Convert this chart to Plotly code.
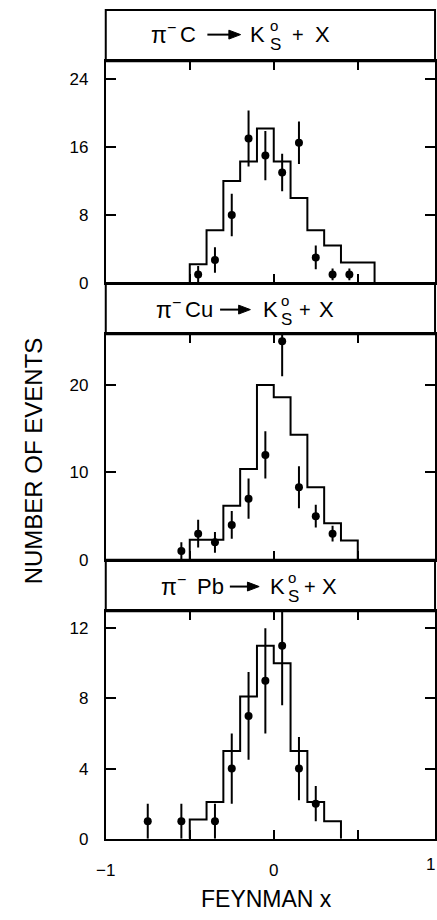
import plotly.graph_objects as go

W, H = 437, 920

# ---------------- data ----------------
C_edges = [-0.5, -0.4, -0.3, -0.2, -0.1, 0.0, 0.1, 0.2, 0.3, 0.4, 0.6]
C_model = [2.2, 6.2, 12.0, 14.3, 18.2, 14.3, 10.0, 6.2, 4.4, 2.4]
C_x = [-0.45, -0.35, -0.25, -0.15, -0.05, 0.05, 0.15, 0.25, 0.35, 0.45]
C_n = [1, 2.7, 8, 17, 15, 13, 16.5, 3, 1, 1]
C_err = [1.0, 1.5, 2.5, 3.3, 2.9, 2.2, 2.5, 1.4, 0.7, 0.7]

Cu_edges = [-0.5, -0.4, -0.3, -0.2, -0.1, 0.0, 0.1, 0.2, 0.3, 0.4, 0.5]
Cu_model = [2.3, 2.3, 6.2, 10.4, 20.0, 18.6, 14.3, 8.3, 4.2, 2.2]
Cu_x = [-0.55, -0.45, -0.35, -0.25, -0.15, -0.05, 0.05, 0.15, 0.25, 0.35]
Cu_n = [1, 3, 2, 4, 7, 12, 25, 8.3, 5, 3]
Cu_err = [1.0, 1.6, 1.2, 1.6, 2.3, 2.7, 4.0, 2.4, 1.3, 0.9]

Pb_edges = [-0.5, -0.4, -0.3, -0.2, -0.1, 0.0, 0.1, 0.2, 0.3, 0.4]
Pb_model = [1.1, 2.1, 5.0, 8.1, 11.0, 10.0, 5.0, 2.1, 1.0]
Pb_x = [-0.75, -0.55, -0.35, -0.25, -0.15, -0.05, 0.05, 0.15, 0.25]
Pb_n = [1, 1, 1, 4, 7, 9, 11, 4, 2]
Pb_err = [1.0, 1.0, 1.0, 2.0, 2.5, 3.0, 3.4, 1.8, 1.0]

targets = ["C", "Cu", "Pb"]
y_ranges = [[0, 26.1], [0, 25.8], [0, 12.96]]
y_ticks = [[0, 8, 16, 24], [0, 10, 20], [0, 4, 8, 12]]
x_major = [-1, 0]
x_major_text = ["−1", "0"]
x_minor = [-0.5, 0.5]
x_range = [-1, 0.96]

# ---------------- layout geometry (pixels) ----------------
FONT = "Liberation Sans, Arial, sans-serif"
LEFT, RIGHT = 98, 435
plot_px = [(62, 286), (338, 566), (618, 848)]   # top, bottom of each plot area
box_px = [(10, 62), (286, 338), (566, 618)]     # title boxes


def px(x):
    return x / W


def py(y):
    return 1 - y / H


fig = go.Figure()
series = [
    (C_edges, C_model, C_x, C_n, C_err),
    (Cu_edges, Cu_model, Cu_x, Cu_n, Cu_err),
    (Pb_edges, Pb_model, Pb_x, Pb_n, Pb_err),
]

for i, (edges, model, xs, ns, errs) in enumerate(series):
    suffix = "" if i == 0 else str(i + 1)
    hx = [edges[0]] + list(edges)
    hy = [0] + list(model) + [0]
    fig.add_trace(go.Scatter(
        x=hx, y=hy, mode="lines", line=dict(color="black", width=2, shape="hv"),
        xaxis="x" + suffix, yaxis="y" + suffix, showlegend=False, hoverinfo="skip"))
    fig.add_trace(go.Scatter(
        x=xs, y=ns, mode="markers",
        marker=dict(color="black", size=8),
        error_y=dict(type="data", array=errs, visible=True, color="black",
                     thickness=2, width=0),
        xaxis="x" + suffix, yaxis="y" + suffix, showlegend=False))

axis_common = dict(showline=True, linecolor="black", linewidth=2, mirror="allticks",
                   ticks="inside", tickcolor="black", tickwidth=2, showgrid=False,
                   zeroline=False)

layout = dict(
    width=W, height=H, margin=dict(l=0, r=0, t=0, b=0),
    paper_bgcolor="white", plot_bgcolor="white",
    font=dict(family=FONT, color="black", size=17),
    showlegend=False,
)
for i in range(3):
    suffix = "" if i == 0 else str(i + 1)
    top, bot = plot_px[i]
    layout["xaxis" + suffix] = dict(
        axis_common, domain=[px(LEFT), px(RIGHT)], range=x_range,
        tickvals=x_major, ticktext=x_major_text, ticklen=9,
        minor=dict(tickvals=x_minor, ticks="inside", ticklen=9,
                   tickcolor="black", tickwidth=2, showgrid=False),
        showticklabels=(i == 2), anchor="y" + suffix,
        tickfont=dict(size=17, family=FONT), ticklabelstandoff=15)
    layout["yaxis" + suffix] = dict(
        axis_common, domain=[py(bot), py(top)], range=y_ranges[i],
        tickvals=y_ticks[i], ticklen=10, anchor="x" + suffix,
        tickfont=dict(size=17, family=FONT), ticklabelstandoff=12)
fig.update_layout(**layout)

# title boxes
for (t, b) in box_px:
    fig.add_shape(type="rect", xref="paper", yref="paper",
                  x0=px(LEFT), x1=px(RIGHT), y0=py(b), y1=py(t),
                  line=dict(color="black", width=2))

# reaction labels
title_parts = [
    dict(yc=35, pi=142, tgt=172, arrow=(202, 236), k=244, os=264, plus=293, X=310),
    dict(yc=313, pi=147, tgt=177, arrow=(215, 246), k=257, os=275, plus=300, X=314),
    dict(yc=593, pi=152, tgt=189, arrow=(225, 255), k=264, os=282, plus=305, X=317),
]
for tgt, p in zip(targets, title_parts):
    yc = p["yc"]
    pieces = [
        ("π<sup>−</sup>", p["pi"], yc - 2, 23),
        (tgt, p["tgt"], yc, 22),
        ("K", p["k"], yc, 22),
        ("o", p["os"], yc - 9, 15),
        ("S", p["os"], yc + 10, 17),
        ("+", p["plus"] - 6, yc, 20),
        ("X", p["X"], yc, 22),
    ]
    for txt, xl, yy, sz in pieces:
        fig.add_annotation(text=txt, xref="paper", yref="paper", x=px(xl), y=py(yy),
                           xanchor="left", yanchor="middle", showarrow=False,
                           font=dict(size=sz, family=FONT, color="black"))
    a0, a1 = p["arrow"]
    fig.add_shape(type="line", xref="paper", yref="paper",
                  x0=px(a0), x1=px(a1 - 8), y0=py(yc), y1=py(yc),
                  line=dict(color="black", width=2))
    fig.add_shape(type="path", xref="paper", yref="paper",
                  path=(f"M {px(a1)},{py(yc)} L {px(a1 - 12)},{py(yc - 4.5)} "
                        f"L {px(a1 - 12)},{py(yc + 4.5)} Z"),
                  fillcolor="black", line=dict(color="black", width=1))

# right-hand "1" tick label (edge of the frame)
fig.add_annotation(text="1", xref="paper", yref="paper", x=px(437), y=py(874),
                   xanchor="right", yanchor="middle", showarrow=False,
                   font=dict(size=17, family=FONT, color="black"))

# axis titles
fig.add_annotation(text="NUMBER OF EVENTS", xref="paper", yref="paper",
                   x=px(25), y=py(466), textangle=-90, showarrow=False,
                   xanchor="center", yanchor="middle",
                   font=dict(size=24, family=FONT, color="black"))
fig.add_annotation(text="FEYNMAN x", xref="paper", yref="paper",
                   x=px(262), y=py(909), showarrow=False,
                   xanchor="center", yanchor="middle",
                   font=dict(size=23, family=FONT, color="black"))

fig.write_html("out.html")
